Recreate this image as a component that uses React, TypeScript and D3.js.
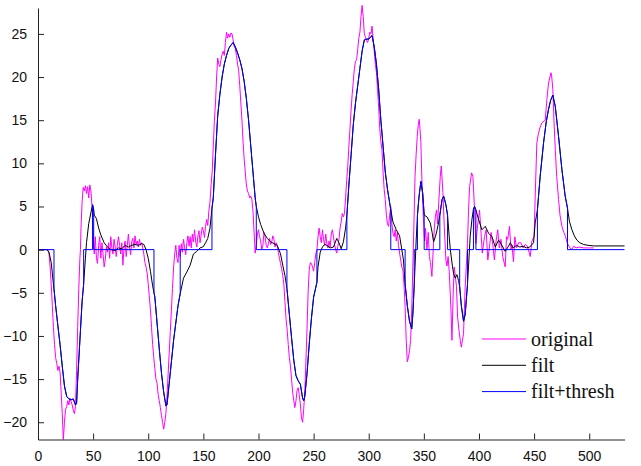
import React, { useEffect, useRef } from 'react';
import * as d3 from 'd3';

// values, [sample, value]
const original: [number, number][] = [
  [0, 0], [9, 0], [10, -0.5], [11, -2], [12, -4], [13, -6.5], [14, -9], [15, -11], [16, -12.5], [17, -13.2],
  [18, -14], [19, -13.5], [20, -14.2], [21, -16.5], [22, -19], [23, -22], [24, -20], [25, -18.5], [26, -18.2],
  [27, -17.5], [28, -18], [29, -17.2], [30, -17.6], [31, -18], [32, -18.6], [33, -19], [34, -18.2], [35, -14],
  [36, -9], [37, -4.5], [38, -1], [38.5, 0], [39, 2.5], [40, 5.5], [41, 7.2], [42, 6.8], [43, 7.4], [44, 6.5],
  [45, 7.3], [46, 6], [47, 7.5], [48, 6.8], [49, 5], [50, 2], [51, -0.5], [52, 1.5], [53, -1], [54, -1.6],
  [55, 0.5], [56, 1.5], [57, -1], [58, 0.8], [59, -0.5], [60, -2], [61, -1.2], [62, 0.3], [63, -0.3], [64, 0.8],
  [65, -1], [66, 1.5], [67, 0.2], [68, -0.5], [69, 1.2], [70, 0.3], [71, -0.8], [72, 0.6], [73, 1.5], [74, 0.5],
  [75, -0.5], [76, 0.8], [77, -1.8], [78, 0.2], [79, 1], [80, -0.8], [81, 0.5], [82, 1.8], [83, 0.4], [84, -0.6],
  [85, 0.9], [86, 1.3], [87, 0.2], [88, 1.6], [89, 0.6], [90, 1], [91, 0.3], [92, 1.2], [93, 0.5], [94, 0.8],
  [95, 0.2], [96, -0.5], [97, -1.5], [98, -2], [99, -2.7], [100, -4], [101, -5.5], [102, -7], [103, -9],
  [104, -11], [105, -12.5], [106, -13.8], [107, -15], [108, -15.5], [109, -16.8], [110, -17.5], [111, -18.3],
  [112, -19.2], [113, -20], [114, -20.8], [115, -20], [116, -19], [117, -17], [118, -14.5], [119, -12],
  [120, -9.5], [121, -7], [122, -4.5], [123, -2], [124, -0.5], [125, 0.5], [126, -1], [127, -1.5], [128, 0.5],
  [129, -0.8], [130, 0.7], [131, -0.3], [132, 1.2], [133, 0.2], [134, -0.6], [135, 0.8], [136, 1.6], [137, 0.4],
  [138, 1.5], [139, 0.2], [140, 1.8], [141, 0.9], [142, 2.3], [143, 1], [144, 0.3], [145, 1.5], [146, 2.2],
  [147, 0.8], [148, 1.7], [149, 2.6], [150, 2.2], [151, 1.4], [152, 2.7], [153, 3.5], [154, 2.8], [155, 4.5],
  [156, 5.5], [157, 7.5], [158, 9], [159, 12], [160, 15], [161, 17], [162, 20], [163, 22.2], [164, 21.5],
  [165, 21.2], [166, 22], [167, 22.6], [168, 23], [169, 22.5], [170, 24], [171, 25.2], [172, 24.5], [173, 25],
  [174, 24.6], [175, 25.1], [176, 25], [177, 24.3], [178, 23.5], [179, 23.3], [180, 22.5], [181, 21.5],
  [182, 20.8], [183, 19], [184, 17], [185, 15], [186, 12.5], [187, 10.5], [188, 9], [189, 7.5], [190, 6.8],
  [191, 6.5], [192, 6], [193, 6.2], [194, 5.8], [195, 4.5], [196, 2], [197, -0.4], [198, 0.5], [199, 1.8],
  [200, 2.3], [201, 1.5], [202, 1], [203, 0], [204, 0.5], [205, 2], [206, 1.5], [207, 0.5], [208, 0.2],
  [209, 0.7], [210, 1.3], [211, 0.6], [212, 0.9], [213, 1.6], [214, 1.2], [215, 0.3], [216, 0.8], [217, 0.5],
  [218, -0.3], [219, -1], [220, -1.6], [221, -2.2], [222, -3], [223, -4], [224, -6], [225, -8], [226, -9.3],
  [227, -11], [228, -12.5], [229, -13.5], [230, -15], [231, -16.5], [232, -17.5], [233, -18.3], [234, -17.5],
  [235, -16.3], [236, -16], [237, -16.8], [238, -18], [239, -19.5], [240, -20], [241, -18.5], [242, -16.5],
  [243, -13], [244, -9.3], [245, -5], [246, -2.4], [247, -1.5], [248, -1.6], [249, -2], [250, -2.5],
  [251, -1.5], [252, -0.5], [253, 0], [254, 1.5], [255, 2.5], [256, 1.5], [257, 0.8], [258, 2.3], [259, 1.2],
  [260, 0.5], [261, 1.8], [262, 0.7], [263, 0.2], [264, 1], [265, 0.3], [266, 1.8], [267, 2.3], [268, 1.5],
  [269, 0.6], [270, 0], [271, -0.4], [272, 0.4], [273, 1.2], [274, 2.5], [275, 3.2], [276, 4.2], [277, 3.8],
  [278, 4.2], [279, 6], [280, 8], [281, 9.7], [282, 12], [283, 14], [284, 16.2], [285, 18], [286, 19.5],
  [287, 21], [288, 21.8], [289, 22], [290, 23.2], [291, 24.5], [292, 25.2], [293, 27], [294, 28.3], [295, 27],
  [296, 25], [297, 24.6], [298, 24.2], [299, 24], [300, 24.5], [301, 25.2], [302, 25], [303, 25.9], [304, 24.4],
  [305, 23], [306, 21.5], [307, 20.5], [308, 18.6], [309, 16.5], [310, 14], [311, 12.5], [312, 11.6], [313, 9],
  [314, 7], [315, 5.8], [316, 4], [317, 3], [318, 2.7], [319, 4], [320, 5], [321, 3], [322, 1.9], [323, 1.5],
  [324, 2.3], [325, 1], [326, 2], [327, 0.5], [328, -0.4], [329, -1.2], [330, -2], [331, -2.4], [332, -4],
  [333, -6.6], [334, -10.5], [335, -13], [336, -12.5], [337, -11.7], [338, -10.5], [339, -7], [340, -2],
  [341, 3], [342, 8.5], [343, 11], [344, 13.1], [345, 14.5], [345.8, 15.1], [346.5, 14], [347.3, 12.4],
  [348, 9], [349, 5.4], [350, 2.5], [350.7, 1], [351.5, 2.5], [352.8, 0], [354, 2], [355, -0.8], [356, -1.5],
  [357.3, -3.1], [358.3, -0.5], [359.5, 2.5], [360.4, 3.8], [361.5, 4.6], [362.5, 3], [363.5, 5.5],
  [364.9, 8.5], [365.8, 9.7], [367.3, 6.6], [368.5, 2.7], [370, -1.2], [371, -1.9], [372, -0.8], [373, -2.5],
  [374.6, -7], [375.5, -10.5], [376.5, -5.5], [377.5, -2], [378.5, -3], [379.6, -4.3], [380.6, -7.8],
  [382, -9.5], [383, -10.5], [384, -11.3], [385, -10.5], [386, -9.7], [387.5, -4.3], [389.6, 0.7],
  [390.5, 4.5], [391.5, 7.3], [393.3, 8.9], [394.5, 8.5], [396, 4.6], [397.2, 0.7], [398.5, 2.5],
  [400.5, 4.6], [401.5, 2.7], [403, -0.4], [405, 1.5], [406.5, 2.3], [408, -1.2], [409.5, 0.3], [411, 2],
  [412.5, 0.6], [414, -1.2], [415.5, 1], [417, 2.3], [418.5, 0.2], [420, 1.2], [421.5, -0.8], [423.8, -2],
  [425, 1.5], [426, 1.2], [427.7, 2.7], [429, 0], [430, 0.5], [431.3, -1.4], [432.5, 1.5], [434, 0.2],
  [436, 0.8], [438, 0.8], [440, 0.2], [442, 0.6], [444, 0.4], [446.5, -0.8], [448, 1], [450, 1.5], [451, 6.2],
  [452.5, 12.4], [454, 13.5], [455.5, 14.2], [457.1, 14.7], [459, 14.9], [460.1, 15], [461.6, 17.4],
  [463.1, 19.3], [465.3, 20.5], [466, 20], [467, 18.6], [468, 15], [469.2, 11.6], [470.5, 8.5], [472.2, 5.8],
  [473.5, 4], [475.2, 2.7], [477, 2], [478.5, 1.5], [480, 0.8], [482, 0.3], [484, 0], [486, 0.4], [488, 0.2],
  [491, 0.3], [495, 0.2], [500, 0.2], [504, 0.2],
];

const filt: [number, number][] = [
  [0, 0], [8, 0], [10, -0.3], [12, -1.5], [14, -4], [16, -6.5], [18, -8.8], [20, -11], [22, -13.5],
  [24, -15.8], [26, -17], [28, -17.3], [30, -17.4], [32, -17.3], [34, -18], [35, -17.8], [36, -15],
  [38, -10.5], [40, -6], [41.4, -4], [43, -1], [44, 0.8], [46, 3], [48, 4.3], [49.5, 5.2], [50.5, 4.6],
  [51, 4], [53, 3.6], [55, 2.5], [57, 1.7], [60, 0.8], [63, 0.3], [66, 0], [70, -0.1], [73, 0.2], [76, 0.1],
  [79, 0.5], [82, 0.3], [85, 0.5], [88, 0.6], [91, 0.5], [94, 0.7], [96, 0.6], [98, 0], [100, -1],
  [102, -2.5], [104, -4.2], [106, -5.5], [108, -8.5], [110, -11.5], [112, -14.3], [114, -16.5], [116, -18.1],
  [117, -18], [119, -15.5], [121, -13], [123, -10.5], [125, -8.5], [127, -6.5], [129, -5.1], [132, -3.3],
  [135, -2.6], [138, -1.8], [141, -0.5], [144, -0.2], [147, 0.2], [150, 0.35], [152, 0.8], [154, 1.3],
  [156, 2.5], [157.8, 4.8], [159, 6], [161, 11], [163, 15.5], [165, 18], [167, 20], [169, 21.5], [171, 22.5],
  [173, 23.3], [175, 23.7], [177, 24], [179, 23.5], [181, 22.8], [183, 22], [185, 21], [187, 19.5],
  [189, 17.5], [191, 15], [193, 12], [195, 9], [197, 6], [198, 5], [200, 3.8], [202, 2.9], [205, 1.9],
  [208, 1.3], [211, 0.9], [214, 0.7], [217, 0.5], [220, -0.5], [222, -1.8], [224, -3], [225.8, -4.5],
  [228, -7.5], [230, -10.2], [232, -12.8], [234, -14.6], [236, -15.2], [238, -15.6], [240, -17.2],
  [241, -17.5], [242, -17], [244, -14.4], [246, -11], [248, -8], [250, -5.5], [253, -3.8], [254, -2],
  [256, -0.3], [258, 0.3], [260, 0.6], [262, 0.5], [265, 0.2], [268, 0.3], [271, 1.3], [273, 0.8],
  [275, 0.1], [277, 0.9], [279, 2.5], [280.2, 4], [282, 7.5], [284, 11], [286, 14.5], [288, 17], [290, 19],
  [292, 21], [294, 23], [296, 24.3], [298, 24.4], [300, 24.4], [302, 24.7], [303, 24.8], [305, 23.5],
  [307, 21.5], [309, 18.6], [311, 15], [313, 12], [315, 9], [317, 7], [319.5, 5], [320, 4.6], [322, 3.2],
  [325, 2.3], [328, 1.6], [330, 0], [331.5, -1.2], [333, -4], [335, -6.5], [337, -8.3], [339, -9.2],
  [340, -7.5], [341.3, -4], [342, -2], [343, 1], [344.2, 4], [345.5, 6], [347.3, 7.9], [349, 6.5],
  [350.3, 4], [352.8, 3.8], [355.8, 3.1], [357.5, 2], [358.8, 0.9], [360.5, 1.5], [362, 2.3], [363.3, 3.1],
  [364.5, 4], [366.5, 5.8], [368, 6.2], [370, 5.2], [371.5, 4], [373, 1.5], [374, 0], [376, -2], [377, -2.8],
  [378.5, -3.3], [380, -2.9], [381.5, -3.6], [382.5, -4.3], [384, -6.5], [386, -8.3], [387.5, -7.5],
  [389, -5], [389.6, -4], [390.5, -2], [392, 1.5], [393.6, 3.5], [395, 4.7], [396, 5], [397.2, 4.6],
  [399.6, 3.5], [402.7, 2.3], [405.7, 2.7], [408.7, 1.9], [411.8, 1.5], [414.8, 0.3], [417.8, 1.1],
  [420.8, 0.5], [423.8, -0.2], [426.8, 0.4], [428.4, 0.8], [431, 0.2], [434, 0.5], [437, 0.3], [440, 0.4],
  [443, 0.2], [446, 0.3], [449.5, 0.8], [451, 3.1], [453, 4.6], [455.5, 8.5], [458.6, 12.4], [461, 14.8],
  [463, 16.2], [465, 17.3], [467, 17.9], [469.2, 16.6], [472.2, 13.1], [475.2, 9.3], [478.2, 6.2],
  [480.3, 4.8], [482, 3.3], [484.3, 2.3], [486.5, 1.6], [488.8, 1.1], [491.5, 0.8], [494.8, 0.6], [499, 0.5],
  [504, 0.43], [532, 0.43],
];

// thresholded filter output: repeated x marks a jump to / from zero
const filtThresh: [number, number][] = [
  [0, 0], [14.5, 0], [14.5, -4.5], [16, -6.5], [18, -8.8], [20, -11], [22, -13.5], [24, -15.8], [26, -17],
  [28, -17.3], [30, -17.4], [32, -17.3], [34, -18], [35, -17.8], [36, -15], [38, -10.5], [40, -6],
  [41.4, -4], [41.4, 0], [49.5, 0], [49.5, 5.2], [50.5, 4.6], [50.5, 0], [105.2, 0], [105.2, -5],
  [106, -5.5], [108, -8.5], [110, -11.5], [112, -14.3], [114, -16.5], [116, -18.1], [117, -18], [119, -15.5],
  [121, -13], [123, -10.5], [125, -8.5], [127, -6.5], [129, -5.1], [129, 0], [157.8, 0], [157.8, 4.8],
  [159, 6], [161, 11], [163, 15.5], [165, 18], [167, 20], [169, 21.5], [171, 22.5], [173, 23.3], [175, 23.7],
  [177, 24], [179, 23.5], [181, 22.8], [183, 22], [185, 21], [187, 19.5], [189, 17.5], [191, 15], [193, 12],
  [195, 9], [197, 6], [198, 5], [198, 0], [225.8, 0], [225.8, -4.5], [228, -7.5], [230, -10.2], [232, -12.8],
  [234, -14.6], [236, -15.2], [238, -15.6], [240, -17.2], [241, -17.5], [242, -17], [244, -14.4], [246, -11],
  [248, -8], [250, -5.5], [253, -3.8], [253, 0], [280.2, 0], [280.2, 4], [282, 7.5], [284, 11], [286, 14.5],
  [288, 17], [290, 19], [292, 21], [294, 23], [296, 24.3], [298, 24.4], [300, 24.4], [302, 24.7], [303, 24.8],
  [305, 23.5], [307, 21.5], [309, 18.6], [311, 15], [313, 12], [315, 9], [317, 7], [319.5, 5], [320, 4.6],
  [320, 0], [333, 0], [333, -4], [335, -6.5], [337, -8.3], [339, -9.2], [340, -7.5], [341.3, -4], [341.3, 0],
  [344.2, 0], [344.2, 4], [345.5, 6], [347.3, 7.9], [349, 6.5], [350.3, 4], [350.3, 0], [364.5, 0],
  [364.5, 4], [366.5, 5.8], [368, 6.2], [370, 5.2], [371.5, 4], [371.5, 0], [382.5, 0], [382.5, -4.3],
  [384, -6.5], [386, -8.3], [387.5, -7.5], [389, -5], [389.6, -4], [389.6, 0], [395, 0], [395, 4.7],
  [396, 5], [397.2, 4.6], [397.2, 0], [453, 0], [453, 4.6], [455.5, 8.5], [458.6, 12.4], [461, 14.8],
  [463, 16.2], [465, 17.3], [467, 17.9], [469.2, 16.6], [472.2, 13.1], [475.2, 9.3], [478.2, 6.2],
  [480.3, 4.8], [480.3, 0], [532, 0],
];

const xTicks = [0, 50, 100, 150, 200, 250, 300, 350, 400, 450, 500];
const yTicks = [-20, -15, -10, -5, 0, 5, 10, 15, 20, 25];

const seriesNames = ['original', 'filt', 'filt+thresh'];
const seriesColors = ['#ff00ff', '#000000', '#0000ff'];

const width = 641;
const height = 466;

export default function App() {
  const ref = useRef<SVGSVGElement>(null);

  useEffect(() => {
    const svg = d3.select(ref.current);
    svg.selectAll('*').remove();

    const x = d3.scaleLinear().domain([0, 532]).range([38, 624.5]);
    const y = d3.scaleLinear().domain([-22, 28]).range([439.5, 8]);

    const line = d3.line<[number, number]>()
      .x(d => x(d[0]))
      .y(d => y(d[1]));

    const data = [original, filt, filtThresh];
    data.forEach((s, i) => {
      svg.append('path')
        .datum(s)
        .attr('fill', 'none')
        .attr('stroke', seriesColors[i])
        .attr('stroke-width', 1)
        .attr('d', line);
    });

    // matlab style axes, ticks pointing inwards
    const xAxis = svg.append('g')
      .attr('transform', `translate(0,${y(-22)})`)
      .call(d3.axisBottom(x).tickValues(xTicks).tickSizeInner(-6).tickSizeOuter(0).tickPadding(12));
    const yAxis = svg.append('g')
      .attr('transform', `translate(${x(0)},0)`)
      .call(d3.axisLeft(y).tickValues(yTicks).tickSizeInner(-6).tickSizeOuter(0).tickPadding(11));

    [xAxis, yAxis].forEach(a => {
      a.selectAll('text')
        .attr('font-family', 'Liberation Sans, Arial, sans-serif')
        .attr('font-size', 14)
        .attr('fill', '#111');
      a.selectAll('line').attr('stroke', '#222');
      a.select('.domain').attr('stroke', '#222');
    });

    const legend = svg.append('g');
    seriesNames.forEach((name, i) => {
      const ly = 339 + i * 26.3;
      legend.append('line')
        .attr('x1', 482).attr('x2', 526)
        .attr('y1', ly).attr('y2', ly)
        .attr('stroke', seriesColors[i]);
      legend.append('text')
        .attr('x', 531)
        .attr('y', ly)
        .attr('dy', '0.33em')
        .attr('font-family', 'Liberation Serif, Times New Roman, serif')
        .attr('font-size', 20)
        .attr('fill', '#111')
        .text(name);
    });
  }, []);

  return (
    <svg ref={ref} width={width} height={height}
      style={{ position: 'absolute', left: 0, top: 0, background: '#fff' }} />
  );
}
